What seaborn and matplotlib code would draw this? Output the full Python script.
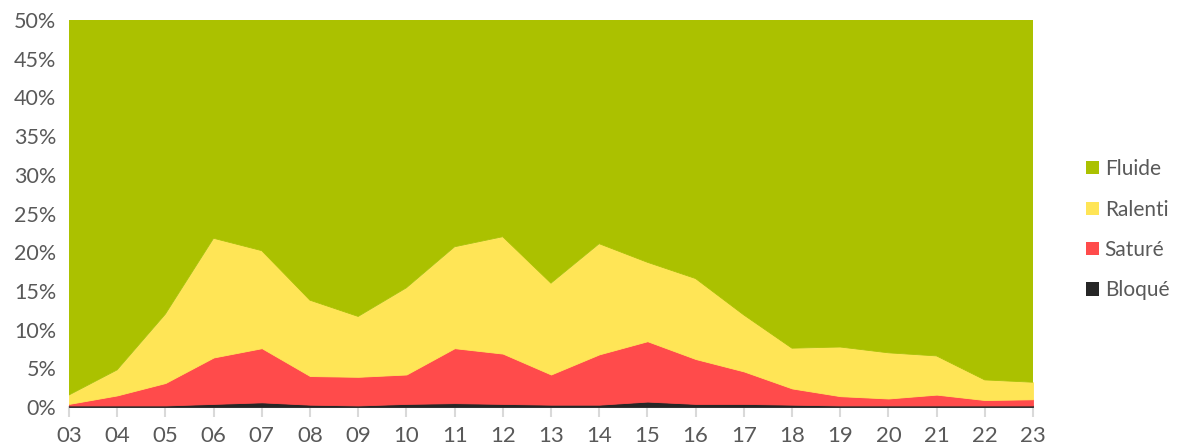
import matplotlib
matplotlib.use("Agg")
import matplotlib.pyplot as plt
import seaborn as sns
import numpy as np
import pandas as pd
from matplotlib.patches import Patch
from matplotlib.ticker import FuncFormatter

hours = ["03", "04", "05", "06", "07", "08", "09", "10", "11", "12", "13",
         "14", "15", "16", "17", "18", "19", "20", "21", "22", "23"]
bloque = [0.2, 0.2, 0.2, 0.4, 0.6, 0.3, 0.2, 0.4, 0.5, 0.4, 0.3,
          0.3, 0.7, 0.4, 0.4, 0.3, 0.2, 0.2, 0.2, 0.2, 0.2]
sature = [0.2, 1.3, 2.9, 6.0, 7.0, 3.7, 3.7, 3.8, 7.1, 6.5, 3.9,
          6.5, 7.8, 5.8, 4.2, 2.1, 1.2, 0.9, 1.4, 0.7, 0.8]
ralenti = [1.15, 3.3, 8.9, 15.4, 12.6, 9.8, 7.8, 11.2, 13.1, 15.1, 11.8,
           14.3, 10.2, 10.4, 7.3, 5.2, 6.35, 5.9, 5.0, 2.6, 2.2]
fluide = [100 - b - s - r for b, s, r in zip(bloque, sature, ralenti)]

series_names = ["Bloqué", "Saturé", "Ralenti", "Fluide"]
colors = ["#262626", "#FF4B4B", "#FFE556", "#ABC100"]

df = pd.DataFrame({"heure": hours, "Bloqué": bloque, "Saturé": sature,
                   "Ralenti": ralenti, "Fluide": fluide})

sns.set_theme(style="white")
plt.rcParams["font.family"] = ["Lato", "DejaVu Sans"]

fig = plt.figure(figsize=(11.83, 4.48), dpi=100)
ax = fig.add_axes([69 / 1183, 41 / 448, 964 / 1183, 387 / 448])

x = np.arange(len(hours))
polys = ax.stackplot(x, [df[n] for n in series_names], colors=colors,
                     linewidth=0, zorder=3)
for p, c in zip(polys, colors):
    p.set_edgecolor(c)
    p.set_linewidth(0.6)

ax.set_xlim(0, len(hours) - 1)
ax.set_ylim(0, 50)
ax.set_xticks(x)
ax.set_xticklabels(hours)
ax.set_yticks(np.arange(0, 51, 5))
ax.yaxis.set_major_formatter(FuncFormatter(lambda v, p: f"{int(v)}%"))
for name, s in ax.spines.items():
    s.set_visible(name == "bottom")
ax.spines["bottom"].set_color("#D9D9D9")
ax.spines["bottom"].set_linewidth(1.5)
ax.spines["bottom"].set_zorder(1)
ax.tick_params(axis="x", length=7, width=1.5, color="#D9D9D9", labelsize=16,
               labelcolor="#595959", pad=7, bottom=True)
ax.tick_params(axis="y", length=0, labelsize=15.5, labelcolor="#595959", pad=9)
ax.set_xlabel("")
ax.set_ylabel("")

handles = [Patch(facecolor=c, edgecolor="none") for c in colors[::-1]]
leg = fig.legend(handles, series_names[::-1], loc="center left",
                 bbox_to_anchor=(1086 / 1183, 0.487), frameon=False,
                 fontsize=15, handlelength=0.6, handleheight=0.6,
                 handletextpad=0.3, labelspacing=0.98, borderpad=0,
                 borderaxespad=0)
for t in leg.get_texts():
    t.set_color("#595959")

fig.savefig("out.png", dpi=100)
